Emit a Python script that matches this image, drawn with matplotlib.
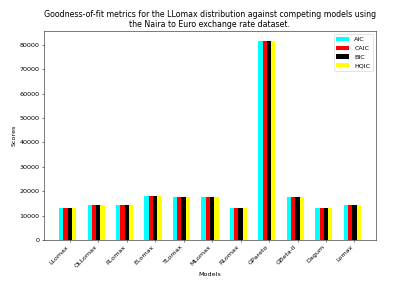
import numpy as np
import matplotlib
matplotlib.use("Agg")
import matplotlib.pyplot as plt

models = ["LLomax", "OLLomax", "PLomax", "ELomax", "TLomax", "MLomax",
          "RLomax", "GPareto", "GBeta-II", "Dagum", "Lomax"]
aic = [12900, 14300, 14300, 18000, 17600, 17600, 13100, 81500, 17600, 13200, 14500]
caic = [12900, 14300, 14300, 18000, 17600, 17600, 13100, 81500, 17600, 13200, 14500]
bic = [12900, 14300, 14300, 18000, 17600, 17600, 13100, 81500, 17600, 13200, 14500]
hqic = [12900, 14300, 14300, 18000, 17600, 17600, 13100, 81500, 17600, 13200, 14500]

x = np.arange(len(models))
w = 0.15

fig, ax = plt.subplots(figsize=(403 / 46, 288 / 46), dpi=46)
ax.bar(x - 2 * w, aic, w, color="cyan", label="AIC")
ax.bar(x - w, caic, w, color="red", label="CAIC")
ax.bar(x, bic, w, color="black", label="BIC")
ax.bar(x + w, hqic, w, color="yellow", label="HQIC")

ax.set_xticks(x)
ax.set_xticklabels(models, rotation=45, ha="right")
ax.set_xlabel("Models")
ax.set_ylabel("Scores")
ax.set_title("Goodness-of-fit metrics for the LLomax distribution against competing models using\n"
             "the Naira to Euro exchange rate dataset.", fontsize=12.4)
ax.legend(loc="upper right")

fig.subplots_adjust(left=0.109, right=0.933, top=0.892, bottom=0.167)
fig.savefig("out.png")
